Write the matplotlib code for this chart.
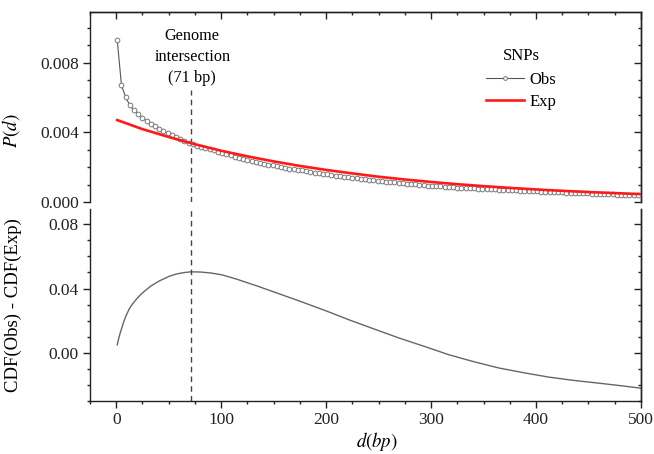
import numpy as np
import matplotlib
matplotlib.use("Agg")
import matplotlib.pyplot as plt
from matplotlib.ticker import MultipleLocator

plt.rcParams['font.family'] = ['Liberation Serif', 'DejaVu Serif']
plt.rcParams['mathtext.fontset'] = 'stix'

# === Data ===
# observed P(d), one bin every 4 bp starting at d = 1
obs_start, obs_step = 1, 4
obs_p = [
    0.00928, 0.00669, 0.00601, 0.00554, 0.00526, 0.00504, 0.00484, 0.00465, 0.00449, 0.00434,
    0.00421, 0.00407, 0.00394, 0.00382, 0.00372, 0.00361, 0.00350, 0.00341, 0.00333, 0.00324,
    0.00317, 0.00310, 0.00303, 0.00296, 0.00289, 0.00281, 0.00274, 0.00267, 0.00259, 0.00253,
    0.00247, 0.00241, 0.00235, 0.00231, 0.00225, 0.00220, 0.00215, 0.00210, 0.00206, 0.00202,
    0.00197, 0.00192, 0.00188, 0.00184, 0.00181, 0.00176, 0.00172, 0.00168, 0.00165, 0.00161,
    0.00158, 0.00154, 0.00151, 0.00148, 0.00145, 0.00141, 0.00139, 0.00136, 0.00133, 0.00130,
    0.00127, 0.00125, 0.00122, 0.00119, 0.00116, 0.00114, 0.00112, 0.00110, 0.00107, 0.00105,
    0.00103, 0.00101, 0.00099, 0.00097, 0.00094, 0.00092, 0.00091, 0.00089, 0.00088, 0.00086,
    0.00085, 0.00083, 0.00082, 0.00080, 0.00079, 0.00078, 0.00077, 0.00075, 0.00074, 0.00073,
    0.00072, 0.00071, 0.00070, 0.00068, 0.00068, 0.00066, 0.00065, 0.00064, 0.00063, 0.00062,
    0.00061, 0.00060, 0.00059, 0.00058, 0.00057, 0.00056, 0.00055, 0.00054, 0.00053, 0.00052,
    0.00051, 0.00050, 0.00049, 0.00048, 0.00047, 0.00046, 0.00045, 0.00044, 0.00043, 0.00042,
    0.00041, 0.00041, 0.00040, 0.00039, 0.00038,
]
obs_d = obs_start + obs_step * np.arange(len(obs_p))

# expected P(d)
exp_d = [1, 25, 50, 75, 100, 125, 150, 175, 200, 225, 250, 275, 300, 325, 350, 375, 400, 425, 450, 475, 500]
exp_p = [0.00470, 0.00418, 0.00373, 0.00331, 0.00294, 0.00262, 0.00233, 0.00207, 0.00184, 0.00164,
         0.00145, 0.00129, 0.00115, 0.00102, 0.00091, 0.00081, 0.00072, 0.00064, 0.00057, 0.00051, 0.00045]

# CDF(Obs) - CDF(Exp)
cdf_d = [1, 2, 3, 4, 5, 7, 9, 12, 15, 20, 25, 33, 41, 50, 57, 64, 71, 80, 90, 101, 115, 136, 155, 176,
         200, 222, 245, 270, 295, 317, 340, 365, 390, 412, 435, 460, 480, 500]
cdf_diff = [0.0050, 0.0080, 0.0105, 0.0128, 0.0148, 0.0190, 0.0226, 0.0268, 0.0300, 0.0340,
            0.0373, 0.0416, 0.0447, 0.0475, 0.0490, 0.0499, 0.0504, 0.0503, 0.0497, 0.0485,
            0.0458, 0.0412, 0.0368, 0.0319, 0.0261, 0.0205, 0.0150, 0.0091, 0.0037, -0.0012,
            -0.0054, -0.0095, -0.0126, -0.0151, -0.0171, -0.0189, -0.0204, -0.0220]

intersection = 71

# === Figure ===
fig = plt.figure(figsize=(6.54, 4.54), dpi=100)
ax1 = fig.add_axes([0.1376, 0.5551, 0.8424, 0.4185])
ax2 = fig.add_axes([0.1376, 0.1167, 0.8424, 0.4229])

spine_c = '#222222'
tick_kw = dict(colors=spine_c, width=1.0, labelsize=12.5, pad=3)

# top panel
ax1.plot(obs_d, obs_p, color='#555555', lw=0.8, marker='o', ms=3.4,
         mfc='white', mec='#777777', mew=0.7, label='Obs', zorder=3)
ax1.plot(exp_d, exp_p, color='#ff1a1a', lw=1.9, label='Exp', zorder=4)
ax1.plot([intersection, intersection], [0, 0.00645], color='#444444', lw=1.0,
         ls=(0, (4, 3)), zorder=2)
ax1.text(72.5, 0.00832, "Genome\nintersection\n(71 bp)", ha='center', va='center',
         fontsize=11.7, linespacing=1.38)
ax1.set_xlim(-25, 500)
ax1.set_ylim(0, 0.0109)
ax1.yaxis.set_minor_locator(MultipleLocator(0.001))
ax1.set_yticks([0, 0.004, 0.008])
ax1.set_yticklabels(['0.000', '0.004', '0.008'])
ax1.set_ylabel('$P(d)$', fontsize=13.5)
ax1.yaxis.set_label_coords(-0.123, 0.374)
ax1.spines['bottom'].set_visible(False)
ax1.tick_params(axis='x', which='both', bottom=False, labelbottom=False)
ax1.tick_params(axis='y', which='both', direction='out', right=False, **tick_kw)
ax1.tick_params(axis='y', which='major', length=5)
ax1.tick_params(axis='y', which='minor', length=2.5)

leg = ax1.legend(title='SNPs', loc='upper left', bbox_to_anchor=(0.719, 0.812),
                 frameon=False, fontsize=12, title_fontsize=12, handlelength=2.3,
                 handletextpad=0.3, labelspacing=0.36, borderpad=0, borderaxespad=0,
                 markerscale=0.8)
leg._legend_box.sep = 6

top1 = ax1.secondary_xaxis('top')
top1.set_xticks([0, 100, 200, 300, 400, 500])
top1.xaxis.set_minor_locator(MultipleLocator(25))
top1.tick_params(which='both', direction='in', labeltop=False, colors=spine_c, width=1.0)
top1.tick_params(which='major', length=5)
top1.tick_params(which='minor', length=2.5)
right1 = ax1.secondary_yaxis('right')
right1.set_yticks([0, 0.004, 0.008])
right1.yaxis.set_minor_locator(MultipleLocator(0.001))
right1.tick_params(which='both', direction='in', labelright=False, colors=spine_c, width=1.0)
right1.tick_params(which='major', length=5)
right1.tick_params(which='minor', length=2.5)

# bottom panel
ax2.plot(cdf_d, cdf_diff, color='#666666', lw=1.0)
ax2.axvline(intersection, color='#444444', lw=1.0, ls=(0, (4, 3)))
ax2.set_xlim(-25, 500)
ax2.set_ylim(-0.03, 0.0895)
ax2.set_yticks([0.0, 0.04, 0.08])
ax2.set_yticklabels(['0.00', '0.04', '0.08'])
ax2.yaxis.set_minor_locator(MultipleLocator(0.01))
ax2.set_xticks([0, 100, 200, 300, 400, 500])
ax2.xaxis.set_minor_locator(MultipleLocator(25))
ax2.set_ylabel('CDF(Obs) - CDF(Exp)', fontsize=13.5)
ax2.yaxis.set_label_coords(-0.123, 0.5)
ax2.set_xlabel('$d(bp)$', fontsize=13.5)
ax2.xaxis.set_label_coords(0.521, -0.15)
ax2.spines['top'].set_visible(False)
ax2.tick_params(which='both', direction='out', top=False, right=False, **tick_kw)
ax2.tick_params(which='major', length=5)
ax2.tick_params(which='minor', length=2.5)
right2 = ax2.secondary_yaxis('right')
right2.set_yticks([0.0, 0.04, 0.08])
right2.yaxis.set_minor_locator(MultipleLocator(0.01))
right2.tick_params(which='both', direction='in', labelright=False, colors=spine_c, width=1.0)
right2.tick_params(which='major', length=5)
right2.tick_params(which='minor', length=2.5)

for a in (ax1, ax2, top1, right1, right2):
    for s in a.spines.values():
        s.set_color(spine_c)
        s.set_linewidth(1.0)

fig.savefig('out.png', dpi=100)
